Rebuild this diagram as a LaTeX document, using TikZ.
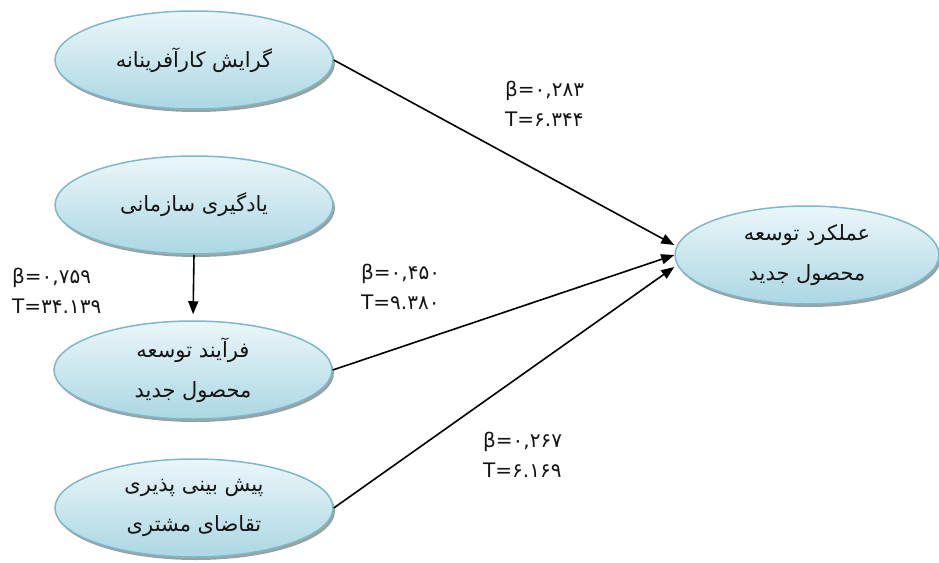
\documentclass[tikz,border=0pt]{standalone}
\usepackage{fontspec}
\usetikzlibrary{arrows.meta,shapes.geometric,shadows}
\TeXXeTstate=1
\newfontfamily\arabicfont[Script=Arabic]{DejaVu Sans}
\newcommand\fa[1]{\beginR #1\endR}
\definecolor{varline}{HTML}{7CB8CA}
\definecolor{vartop}{HTML}{EBF6F9}
\definecolor{varbottom}{HTML}{ABD7E3}
\definecolor{ink}{HTML}{141414}

\begin{document}
\begin{tikzpicture}
  [x=1pt,y=-1pt,
    every node/.style={inner sep=0pt,text=ink},
    var/.style={ellipse,draw=varline,line width=1.5pt,top color=vartop,bottom color=varbottom,
      minimum width=278pt,minimum height=98pt,align=center,
      font=\arabicfont\fontsize{21}{40}\selectfont,
      drop shadow={shadow xshift=2pt,shadow yshift=-3pt,fill=black!75,opacity=0.5}},
    coef/.style={anchor=west,align=left,font=\arabicfont\fontsize{20}{30}\selectfont},
    path/.style={-{Triangle[length=13pt,width=10pt]},line width=1.6pt},
]
  \useasboundingbox (0,0) rectangle (939,562);

  \node[var] (eo) at (194,60) {\fa{گرایش کارآفرینانه}};
  \node[var] (ol) at (194,205) {\fa{یادگیری سازمانی}};
  \node[var] (npd) at (193,370) {\fa{فرآیند توسعه}\\\fa{محصول جدید}};
  \node[var] (dp) at (194,508) {\fa{پیش بینی پذیری}\\\fa{تقاضای مشتری}};
  \node[var,minimum width=264pt] (npp) at (807,255) {\fa{عملکرد توسعه}\\\fa{محصول جدید}};

  \node[coef] (b1) at (505,104) {β=۰,۲۸۳\\T=۶.۳۴۴};
  \node[coef] (b2) at (12,291) {β=۰,۷۵۹\\T=۳۴.۱۳۹};
  \node[coef] (b3) at (361,287) {β=۰,۴۵۰\\T=۹.۳۸۰};
  \node[coef] (b4) at (483,455) {β=۰,۲۶۷\\T=۶.۱۶۹};

  \draw[path] (eo.east) -- ([yshift=10pt]npp.west);
  \draw[path] (npd.east) -- (npp.west);
  \draw[path] (dp.east) -- ([yshift=-12pt]npp.west);
  \draw[path,shorten >=6pt] (ol.south) -- (npd.north);
\end{tikzpicture}
\end{document}
